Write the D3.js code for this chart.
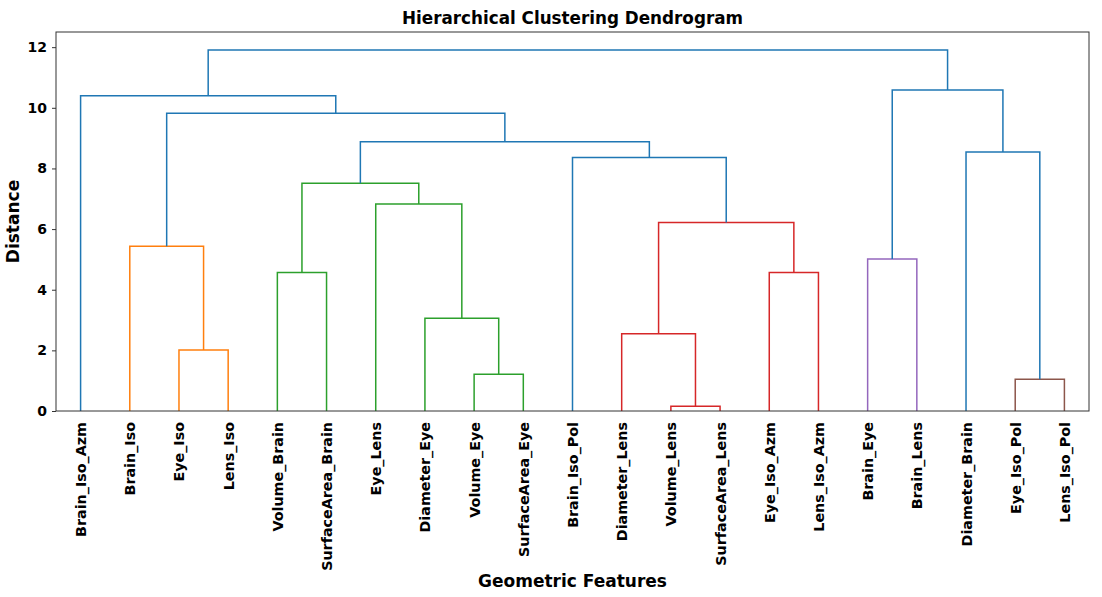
<!DOCTYPE html>
<html>
<head>
<meta charset="utf-8">
<script src="https://cdn.jsdelivr.net/npm/d3@7"></script>
<style>
  body { margin: 0; background: #fff; }
  svg { display: block; font-family: "DejaVu Sans", sans-serif; }
</style>
</head>
<body>
<svg id="chart" width="1102" height="597"></svg>
<script>
// Leaf labels in dendrogram order
const leaves = ["Brain_Iso_Azm","Brain_Iso","Eye_Iso","Lens_Iso","Volume_Brain","SurfaceArea_Brain",
  "Eye_Lens","Diameter_Eye","Volume_Eye","SurfaceArea_Eye","Brain_Iso_Pol","Diameter_Lens",
  "Volume_Lens","SurfaceArea_Lens","Eye_Iso_Azm","Lens_Iso_Azm","Brain_Eye","Brain_Lens",
  "Diameter_Brain","Eye_Iso_Pol","Lens_Iso_Pol"];
// Linkage: children ids (leaves 0..20, clusters 21+ in order), merge heights
const mergeLeft   = [12, 19, 8, 2, 11, 7, 4, 14, 16, 1, 25, 6, 27, 10, 18, 33, 30, 0, 29, 38];
const mergeRight  = [13, 20, 9, 3, 21, 23, 5, 15, 17, 24, 28, 26, 32, 31, 22, 34, 36, 37, 35, 39];
const mergeHeight = [0.16, 1.05, 1.21, 2.01, 2.55, 3.06, 4.57, 4.57, 5.01, 5.43, 6.22, 6.83, 7.51, 8.36, 8.54, 8.88, 9.82, 10.40, 10.59, 11.91];
const mergeColor  = ["C3","C5","C2","C1","C3","C2","C2","C3","C4","C1","C3","C2","C2","C0","C0","C0","C0","C0","C0","C0"];
const yTicks = [0, 2, 4, 6, 8, 10, 12];

const palette = {C0:"#1f77b4", C1:"#ff7f0e", C2:"#2ca02c", C3:"#d62728", C4:"#9467bd", C5:"#8c564b"};

const svg = d3.select("#chart");
const L = 56, R = 1089, T = 32, B = 411;
const x = d3.scaleLinear().domain([0, leaves.length * 10]).range([L, R]);
const y = d3.scaleLinear().domain([0, 12.5]).range([B, T]);

// node positions (data coords)
const nodeX = leaves.map((d, i) => i * 10 + 5);
const nodeY = leaves.map(() => 0);
mergeLeft.forEach((a, k) => {
  const b = mergeRight[k];
  nodeX.push((nodeX[a] + nodeX[b]) / 2);
  nodeY.push(mergeHeight[k]);
});

const g = svg.append("g");
mergeLeft.forEach((a, k) => {
  const b = mergeRight[k], h = mergeHeight[k];
  const path = d3.path();
  path.moveTo(x(nodeX[a]), y(nodeY[a]));
  path.lineTo(x(nodeX[a]), y(h));
  path.lineTo(x(nodeX[b]), y(h));
  path.lineTo(x(nodeX[b]), y(nodeY[b]));
  g.append("path").attr("d", path.toString())
    .attr("fill", "none").attr("stroke", palette[mergeColor[k]])
    .attr("stroke-width", 1.5);
});

// frame
svg.append("rect").attr("x", L).attr("y", T).attr("width", R - L).attr("height", B - T)
  .attr("fill", "none").attr("stroke", "#333").attr("stroke-width", 1);

// y axis
const yAxis = svg.append("g").attr("transform", `translate(${L},0)`)
  .call(d3.axisLeft(y).tickValues(yTicks).tickSize(4).tickPadding(5).tickFormat(d3.format("d")));
yAxis.select(".domain").remove();
yAxis.selectAll(".tick line").attr("stroke", "#333");
yAxis.selectAll("text").attr("font-size", 14).attr("font-weight", "bold")
  .attr("font-family", "DejaVu Sans").attr("fill", "#000");

// x axis
const xAxis = svg.append("g").attr("transform", `translate(0,${B})`)
  .call(d3.axisBottom(x).tickValues(nodeX.slice(0, leaves.length)).tickSize(0)
    .tickFormat((d, i) => leaves[i]));
xAxis.select(".domain").remove();
xAxis.selectAll("text")
  .attr("font-size", 14.3).attr("font-weight", "bold").attr("font-family", "DejaVu Sans")
  .attr("fill", "#000")
  .attr("transform", "rotate(-90)")
  .attr("x", -11).attr("y", 0).attr("dy", "0.35em")
  .attr("text-anchor", "end");

// title & labels
svg.append("text").attr("x", (L + R) / 2).attr("y", 24).attr("text-anchor", "middle")
  .attr("font-size", 16.8).attr("font-weight", "bold").text("Hierarchical Clustering Dendrogram");
svg.append("text").attr("x", (L + R) / 2).attr("y", 587).attr("text-anchor", "middle")
  .attr("font-size", 17).attr("font-weight", "bold").text("Geometric Features");
svg.append("text").attr("transform", `translate(19,${(T + B) / 2}) rotate(-90)`)
  .attr("text-anchor", "middle")
  .attr("font-size", 17).attr("font-weight", "bold").text("Distance");
</script>
</body>
</html>
